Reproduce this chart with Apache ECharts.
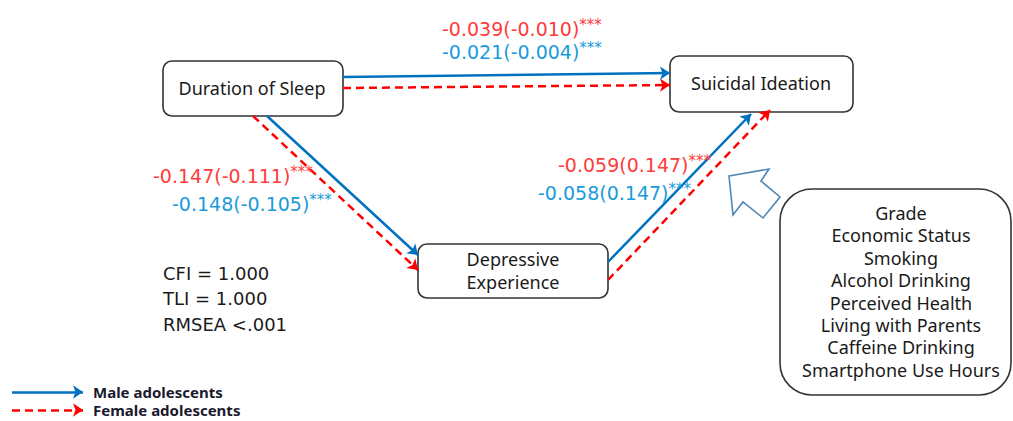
<!DOCTYPE html>
<html>
<head>
<meta charset="utf-8">
<script src="https://cdn.jsdelivr.net/npm/echarts@6/dist/echarts.min.js"></script>
<style>html,body{margin:0;padding:0;background:#fff}#c{width:1013px;height:421px}</style>
</head>
<body>
<div id="c"></div>
<script>
// ---- data ----
const nodeNames = ['Duration of Sleep', 'Suicidal Ideation', 'Depressive\nExperience'];
const pathNames = ['Sleep → Suicidal Ideation', 'Sleep → Depressive Experience', 'Depressive Experience → Suicidal Ideation'];
const maleCoef = ['-0.021(-0.004)', '-0.148(-0.105)', '-0.058(0.147)'];
const femaleCoef = ['-0.039(-0.010)', '-0.147(-0.111)', '-0.059(0.147)'];
const significance = ['***', '***', '***'];
const fitStats = ['CFI = 1.000', 'TLI = 1.000', 'RMSEA <.001'];
const covariates = ['Grade', 'Economic Status', 'Smoking', 'Alcohol Drinking', 'Perceived Health', 'Living with Parents', 'Caffeine Drinking', 'Smartphone Use Hours'];
const groups = ['Male adolescents', 'Female adolescents'];

// ---- layout (pixel space of the diagram) ----
const FONT = '"Noto Sans", "Open Sans", sans-serif';
const FONT_NUM = '"DejaVu Sans", sans-serif';
const BLUE_LINE = '#0070C0', RED_LINE = '#FF0000';
const BLUE_TXT = '#1A9BDB', RED_TXT = '#FF3B3B';
const boxes = [
  [163, 61, 343, 116, 9],   // Duration of Sleep
  [670, 56, 853, 112, 9],   // Suicidal Ideation
  [418, 244, 608, 298, 9],  // Depressive Experience
  [780, 189, 1011, 395, 32] // covariates
];
const nodeLabelPos = [[252, 88], [761, 83], [513, 270]];
const malePaths = [[[343, 77], [670, 73]], [[267, 116], [418, 255]], [[608, 262], [751, 114]]];
const femalePaths = [[[343, 88], [670, 85]], [[253, 116], [418, 270]], [[608, 280], [770, 110]]];
const maleLabelPos = [[442, 52], [172, 204], [538, 193]];
const femaleLabelPos = [[442, 29], [153, 176], [558, 165]];
const fitPos = [163, 273, 25.5];
const covPos = [901, 213, 22.4];
const legendPos = [[12, 83, 392], [12, 83, 410]];
const hollowArrow = [[729, 176], [769, 169], [761, 181], [780, 197], [763, 218], [743, 202], [733, 215]];

// ---- build text items ----
const texts = [];
nodeNames.forEach((n, i) => texts.push({t: n, p: nodeLabelPos[i], c: '#1a1a1a', s: 18, a: 'center', lh: 23}));
maleCoef.forEach((v, i) => texts.push({t: '{n|' + v + '}{s|' + significance[i] + '}', p: maleLabelPos[i], c: BLUE_TXT, s: 19, a: 'left', rich: true}));
femaleCoef.forEach((v, i) => texts.push({t: '{n|' + v + '}{s|' + significance[i] + '}', p: femaleLabelPos[i], c: RED_TXT, s: 19, a: 'left', rich: true}));
fitStats.forEach((v, i) => texts.push({t: v, p: [fitPos[0], fitPos[1] + i * fitPos[2]], c: '#1a1a1a', s: 18, a: 'left', f: FONT_NUM}));
covariates.forEach((v, i) => texts.push({t: v, p: [covPos[0], covPos[1] + i * covPos[2]], c: '#1a1a1a', s: 18, a: 'center'}));
groups.forEach((g, i) => texts.push({t: g, p: [93, legendPos[i][2]], c: '#1a1a2e', s: 15, a: 'left', w: 'bold'}));

const lineData = (paths, names) => paths.map((p, i) => ({name: names[i], coords: p}));

const chart = echarts.init(document.getElementById('c'), null, {renderer: 'svg'});
chart.setOption({
  animation: false,
  backgroundColor: '#fff',
  grid: {left: 0, right: 0, top: 0, bottom: 0},
  xAxis: {type: 'value', min: 0, max: 1013, show: false},
  yAxis: {type: 'value', min: 0, max: 421, inverse: true, show: false},
  series: [
    {
      type: 'custom', name: 'boxes', coordinateSystem: 'cartesian2d', z: 2,
      data: boxes.map(b => [b[0], b[1], b[2], b[3], b[4]]),
      renderItem: (params, api) => {
        const p1 = api.coord([api.value(0), api.value(1)]);
        const p2 = api.coord([api.value(2), api.value(3)]);
        return {type: 'rect', shape: {x: p1[0], y: p1[1], width: p2[0] - p1[0], height: p2[1] - p1[1], r: api.value(4)},
          style: {fill: '#fff', stroke: '#333', lineWidth: 1.6}};
      }
    },
    {
      type: 'custom', name: 'arrow', coordinateSystem: 'cartesian2d', z: 2,
      data: [[0, 0]],
      renderItem: (params, api) => ({
        type: 'polygon', shape: {points: hollowArrow.map(pt => api.coord(pt))},
        style: {fill: '#fff', stroke: '#4F86B5', lineWidth: 1.6}
      })
    },
    {
      type: 'lines', name: groups[0], coordinateSystem: 'cartesian2d', z: 3,
      symbol: ['none', 'arrow'], symbolSize: 10,
      lineStyle: {color: BLUE_LINE, width: 2.5, opacity: 1},
      data: lineData(malePaths, pathNames).concat([{name: 'legend', coords: [[legendPos[0][0], legendPos[0][2]], [legendPos[0][1], legendPos[0][2]]]}])
    },
    {
      type: 'lines', name: groups[1], coordinateSystem: 'cartesian2d', z: 3,
      symbol: ['none', 'arrow'], symbolSize: 10,
      lineStyle: {color: RED_LINE, width: 2.5, type: [8, 5], opacity: 1},
      data: lineData(femalePaths, pathNames).concat([{name: 'legend', coords: [[legendPos[1][0], legendPos[1][2]], [legendPos[1][1], legendPos[1][2]]]}])
    },
    {
      type: 'custom', name: 'texts', coordinateSystem: 'cartesian2d', z: 5,
      data: texts.map(t => t.p),
      renderItem: (params, api) => {
        const t = texts[params.dataIndex];
        const p = api.coord([api.value(0), api.value(1)]);
        const style = {text: t.t, fill: t.c, fontSize: t.s, fontFamily: t.f || FONT, fontWeight: t.w || 'normal',
          align: t.a, verticalAlign: 'middle', lineHeight: t.lh || t.s * 1.3};
        if (t.rich) {
          style.rich = {
            n: {fontSize: 19, fontFamily: FONT_NUM, fill: t.c, lineHeight: 24},
            s: {fontSize: 15, fontFamily: FONT_NUM, fill: t.c, lineHeight: 24, verticalAlign: 'top'}
          };
        }
        return {type: 'text', x: p[0], y: p[1], style};
      }
    }
  ]
});
</script>
</body>
</html>
